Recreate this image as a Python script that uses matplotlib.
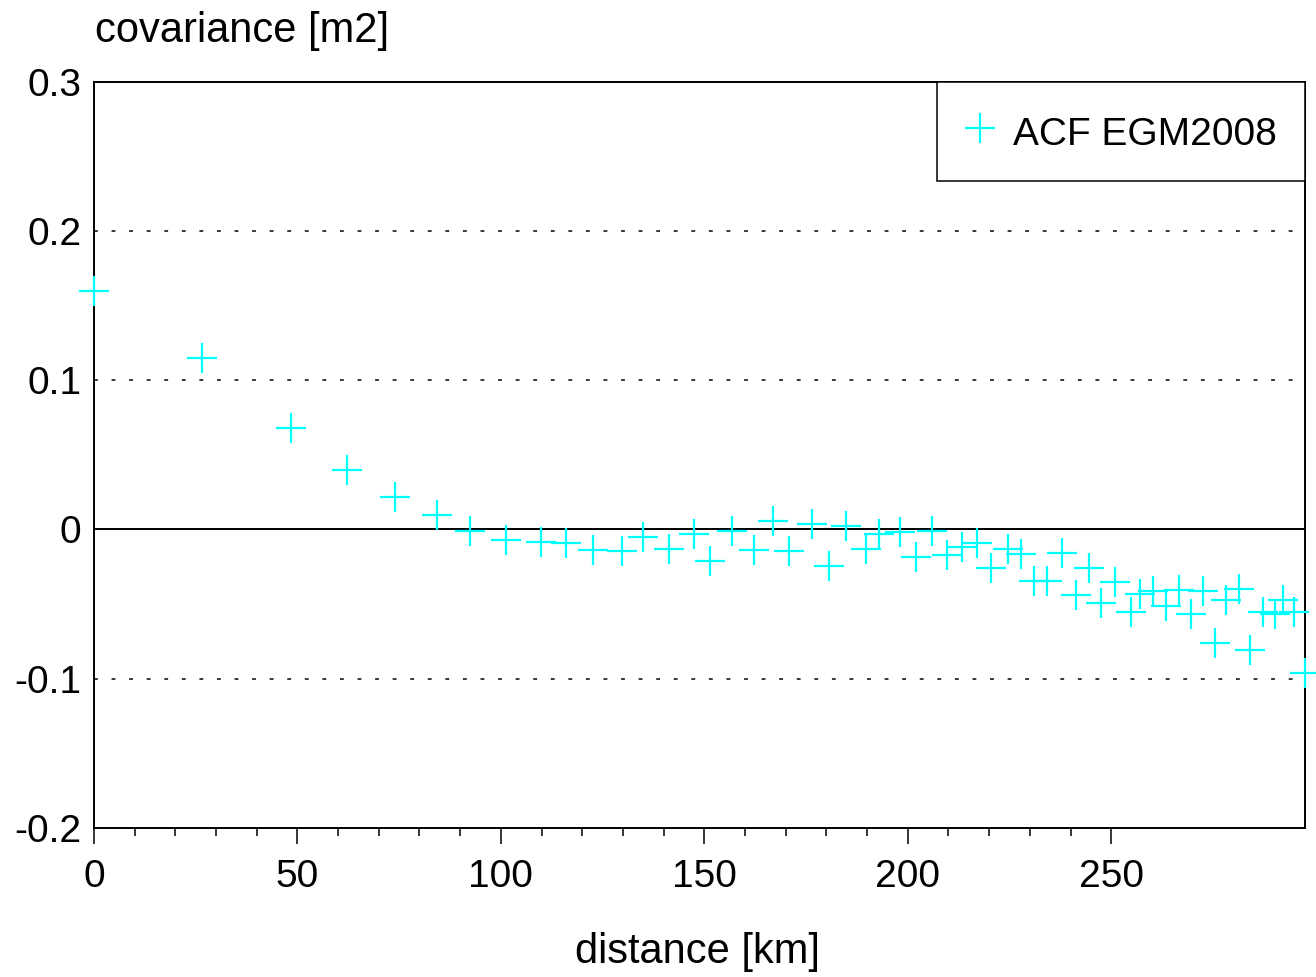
import matplotlib
matplotlib.use("Agg")
import matplotlib.pyplot as plt

plt.rcParams['font.family'] = ['Liberation Sans', 'DejaVu Sans']

# distance [km] and covariance [m2]
distance = [0, 26.5, 48.4, 62.3, 74.0, 84.3, 92.4, 101.2, 109.8, 115.9,
            122.6, 129.8, 134.9, 141.4, 147.5, 151.3, 156.9, 162.2, 166.9, 170.7,
            176.5, 180.6, 184.9, 189.8, 193.0, 198.1, 202.0, 206.0, 209.7, 213.4,
            216.9, 220.5, 224.7, 227.8, 231.1, 234.2, 238.0, 241.4, 244.6, 247.6,
            251.0, 254.9, 257.1, 260.3, 263.5, 266.6, 269.6, 272.5, 275.6, 278.3,
            281.5, 284.0, 287.2, 290.3, 292.1, 295.0, 297.5]
covariance = [0.160, 0.115, 0.068, 0.040, 0.0215, 0.010, -0.001, -0.007, -0.0085, -0.009,
              -0.0135, -0.0145, -0.005, -0.013, -0.003, -0.021, -0.0013, -0.014, 0.0056, -0.0146,
              0.0036, -0.0246, 0.0022, -0.013, -0.0027, -0.002, -0.0186, -0.001, -0.017, -0.012,
              -0.009, -0.026, -0.0134, -0.0166, -0.0347, -0.0347, -0.016, -0.044, -0.026, -0.049,
              -0.0354, -0.0557, -0.043, -0.0414, -0.0515, -0.0407, -0.0568, -0.0414, -0.0765, -0.0474,
              -0.0401, -0.0812, -0.0557, -0.057, -0.0474, -0.0557, -0.0964]

x_major = [0, 50, 100, 150, 200, 250]
x_minor = [10, 20, 30, 40, 60, 70, 80, 90, 110, 120, 130, 140, 160, 170, 180, 190,
           210, 220, 230, 240]
y_ticks = [-0.2, -0.1, 0, 0.1, 0.2, 0.3]
y_labels = ["-0.2", "-0.1", "0", "0.1", "0.2", "0.3"]
grid_levels = [-0.1, 0.1, 0.2]

fig = plt.figure(figsize=(13.16, 9.77), dpi=100)
ax = fig.add_axes([0.0714, 0.1530, 0.9199, 0.7626])

for g in grid_levels:
    ax.axhline(g, color="black", lw=1.1, linestyle=(0, (2.5, 9)), zorder=1)
ax.axhline(0, color="black", lw=1.4, zorder=1)

ax.plot(distance, covariance, linestyle="none", marker="+", markersize=22,
        markeredgewidth=1.6, color="#00ffff", label="ACF EGM2008", clip_on=False, zorder=3)

ax.set_xlim(0, 297.5)
ax.set_ylim(-0.2, 0.3)
ax.set_xticks(x_major)
ax.set_xticklabels([str(v) for v in x_major])
ax.set_xticks(x_minor, minor=True)
ax.set_yticks(y_ticks)
ax.set_yticklabels(y_labels)
ax.tick_params(axis="x", which="major", direction="out", length=11.5, width=1.1,
               labelsize=28, pad=11)
ax.tick_params(axis="x", which="minor", direction="out", length=5.5, width=1.1)
ax.tick_params(axis="y", length=0, labelsize=28, pad=9)
for s in ax.spines.values():
    s.set_linewidth(1.4)

fig.text(95 / 1316, 1 - 31 / 977, "covariance [m2]", fontsize=30, ha="left", va="center")
fig.text(698 / 1316, 1 - 952 / 977, "distance [km]", fontsize=30, ha="center", va="center")

leg = ax.legend(loc="upper right", borderaxespad=0, fancybox=False, framealpha=1,
                edgecolor="black", fontsize=28, borderpad=0.72, handlelength=0.77,
                handleheight=1.32, handletextpad=0.46, markerscale=1.0)
leg.get_frame().set_linewidth(1.1)

fig.savefig("out.png", dpi=100)
